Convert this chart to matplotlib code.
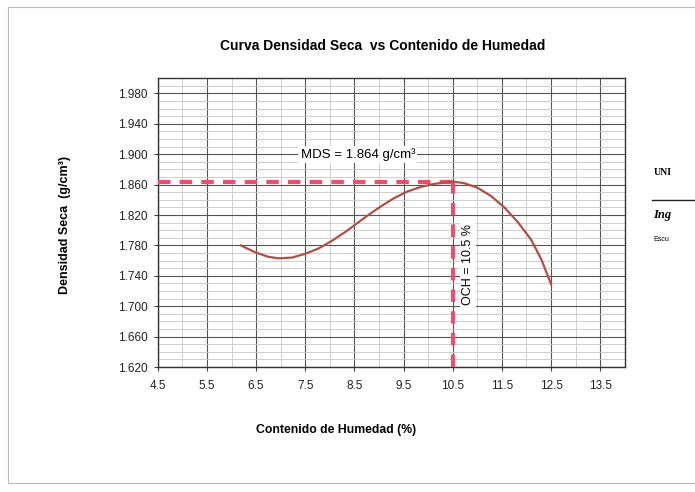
import matplotlib.pyplot as plt
from matplotlib.ticker import MultipleLocator, FixedLocator
from matplotlib.patches import Rectangle

plt.rcParams['font.family'] = ['Liberation Sans', 'DejaVu Sans']

# Curve
humedad = [6.19, 6.48, 6.75, 6.96, 7.23, 7.50, 7.77, 8.04, 8.32, 8.49, 8.76, 9.03, 9.30,
           9.58, 9.85, 10.12, 10.39, 10.50, 10.73, 11.00, 11.28, 11.55, 11.82, 12.09,
           12.30, 12.50]
densidad = [1.780, 1.771, 1.765, 1.763, 1.764, 1.769, 1.776, 1.786, 1.798, 1.806, 1.819,
            1.831, 1.842, 1.851, 1.857, 1.861, 1.863, 1.864, 1.862, 1.856, 1.845, 1.830,
            1.811, 1.788, 1.762, 1.729]

mds = 1.864
och = 10.5

x_ticks = [4.5, 5.5, 6.5, 7.5, 8.5, 9.5, 10.5, 11.5, 12.5, 13.5]
y_ticks = [1.620, 1.660, 1.700, 1.740, 1.780, 1.820, 1.860, 1.900, 1.940, 1.980]

fig = plt.figure(figsize=(6.95, 4.92), dpi=100)
ax = fig.add_axes([0.227, 0.254, 0.672, 0.587])

ax.set_xlim(4.5, 14.0)
ax.set_ylim(1.62, 2.00)
ax.xaxis.set_major_locator(FixedLocator(x_ticks))
ax.yaxis.set_major_locator(FixedLocator(y_ticks))
ax.xaxis.set_minor_locator(MultipleLocator(0.5))
ax.yaxis.set_minor_locator(MultipleLocator(0.01))
ax.set_xticklabels([f"{v:.1f}" for v in x_ticks])
ax.set_yticklabels([f"{v:.3f}" for v in y_ticks])
ax.tick_params(which='major', labelsize=8.5, length=3, color='#444444', pad=4,
               labelcolor='#222222')
ax.tick_params(axis='x', pad=6)
ax.tick_params(which='minor', length=0)

ax.grid(which='major', color='#555555', linewidth=0.8)
ax.grid(which='minor', color='#c8c8c8', linewidth=0.6)
ax.set_axisbelow(True)
for s in ax.spines.values():
    s.set_color('#333333')
    s.set_linewidth(1.0)

# guide lines for optimum point
ax.plot([4.5, och], [mds, mds], color='#e8506e', linewidth=3, dashes=(3, 2.2),
        solid_capstyle='butt', zorder=3)
ax.plot([och, och], [1.62, mds], color='#e8506e', linewidth=3, dashes=(3, 2.2),
        solid_capstyle='butt', zorder=3)

ax.plot(humedad, densidad, color='#b04f46', linewidth=1.6, zorder=4,
        solid_joinstyle='round')

ax.text(8.57, 1.900, "MDS = 1.864 g/cm³", fontsize=9.5, ha='center', va='center',
        bbox=dict(facecolor='white', edgecolor='none', pad=1.5), zorder=5)
ax.text(10.81, 1.755, "OCH = 10.5 %", fontsize=9, rotation=90, ha='center',
        va='center', bbox=dict(facecolor='white', edgecolor='none', pad=1.5), zorder=5)

fig.text(0.551, 0.906, "Curva Densidad Seca  vs Contenido de Humedad", fontsize=10,
         fontweight='bold', ha='center', va='center')
fig.text(0.484, 0.126, "Contenido de Humedad (%)", fontsize=8.8, fontweight='bold',
         ha='center', va='center')
fig.text(0.094, 0.543, "Densidad Seca  (g/cm³)", fontsize=9, fontweight='bold',
         ha='center', va='center', rotation=90)

# scanned page frame and cut-off side text
fig.patches.append(Rectangle((0.012, 0.018), 1.2, 0.967, transform=fig.transFigure,
                             fill=False, edgecolor='#bbbbbb', linewidth=0.8))
fig.text(0.94, 0.65, "UNI", fontsize=7, fontweight='bold', family='Liberation Serif',
         ha='left', va='center')
fig.lines.append(plt.Line2D([0.938, 1.0], [0.593, 0.593], transform=fig.transFigure,
                            color='#222222', linewidth=1.0))
fig.text(0.94, 0.562, "Ing", fontsize=9, fontweight='bold', style='italic',
         family='Liberation Serif', ha='left', va='center')
fig.text(0.94, 0.514, "Escu", fontsize=5, ha='left', va='center')

fig.savefig("out.png", dpi=100)
